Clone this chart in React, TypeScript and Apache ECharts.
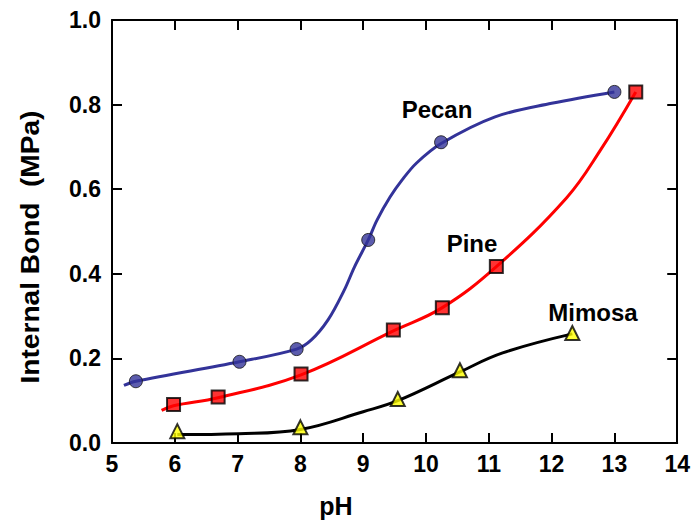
import React, { useEffect, useRef } from "react";
import * as echarts from "echarts";

// Measured points (pH, internal bond MPa)
const pecanPoints: number[][] = [
  [5.38, 0.146], [7.03, 0.192], [7.94, 0.222], [9.08, 0.48], [10.24, 0.711], [13.0, 0.83],
];
const pinePoints: number[][] = [
  [5.98, 0.091], [6.69, 0.109], [8.01, 0.163], [9.48, 0.267], [10.26, 0.32], [11.12, 0.417], [13.34, 0.83],
];
const mimosaPoints: number[][] = [
  [6.04, 0.028], [8.0, 0.037], [9.55, 0.104], [10.54, 0.172], [12.33, 0.26],
];

// Fitted curves
const pecanCurve: number[][] = [
  [5.19, 0.136], [5.38, 0.146], [7.03, 0.192], [7.94, 0.222], [8.17, 0.243], [8.44, 0.291],
  [8.7, 0.362], [8.86, 0.416], [9.08, 0.48], [9.22, 0.527], [9.43, 0.582], [9.62, 0.622],
  [9.85, 0.662], [10.24, 0.708], [11.1, 0.771], [12.0, 0.803], [13.0, 0.83],
];
const pineCurve: number[][] = [
  [5.79, 0.077], [5.98, 0.088], [6.69, 0.107], [8.01, 0.161], [9.48, 0.265], [10.26, 0.32],
  [11.12, 0.417], [12.24, 0.58], [12.78, 0.693], [13.34, 0.83],
];
const mimosaCurve: number[][] = [
  [6.04, 0.02], [7.02, 0.022], [8.0, 0.032], [9.0, 0.074], [9.55, 0.1], [10.54, 0.168],
  [11.22, 0.213], [12.33, 0.258],
];

const xTicks = { min: 5, max: 14, interval: 1 };
const yTicks = { min: 0, max: 1, interval: 0.2 };

const FONT = "Liberation Sans, Arial, Helvetica, sans-serif";

export default function App() {
  const ref = useRef<HTMLDivElement>(null);
  useEffect(() => {
    document.body.style.margin = "0";
    const chart = echarts.init(ref.current!, null, { renderer: "svg" });
    const axisLine = { show: true, onZero: false, lineStyle: { color: "#000", width: 2 } };
    const tick = { show: true, inside: true, length: 10, lineStyle: { color: "#000", width: 2 } };
    const lbl = { color: "#000", fontWeight: "bold" as const, fontSize: 23, fontFamily: FONT };
    chart.setOption({
      animation: false,
      backgroundColor: "#fff",
      grid: { left: 112, right: 10, top: 20, bottom: 78 },
      xAxis: [
        {
          type: "value", ...xTicks, position: "bottom",
          axisLine, axisTick: tick, splitLine: { show: false },
          axisLabel: { ...lbl, margin: 9 },
        },
        {
          type: "value", ...xTicks, position: "top",
          axisLine, axisTick: tick, splitLine: { show: false },
          axisLabel: { show: false },
        },
      ],
      yAxis: [
        {
          type: "value", ...yTicks, position: "left",
          axisLine, axisTick: tick, splitLine: { show: false },
          axisLabel: { ...lbl, margin: 11, formatter: (v: number) => v.toFixed(1) },
        },
        {
          type: "value", ...yTicks, position: "right",
          axisLine, axisTick: tick, splitLine: { show: false },
          axisLabel: { show: false },
        },
      ],
      series: [
        { type: "line", data: pecanCurve, smooth: 0.35, showSymbol: false, lineStyle: { color: "#333399", width: 3 }, z: 2 },
        { type: "line", data: pineCurve, smooth: 0.4, showSymbol: false, lineStyle: { color: "#ff0000", width: 3 }, z: 2 },
        { type: "line", data: mimosaCurve, smooth: 0.4, showSymbol: false, lineStyle: { color: "#000000", width: 3 }, z: 2 },
        { type: "scatter", data: pecanPoints, symbol: "circle", symbolSize: 13, itemStyle: { color: "#333399", borderColor: "#111", borderWidth: 1 }, z: 3 },
        { type: "scatter", data: pinePoints, symbol: "rect", symbolSize: 13, itemStyle: { color: "#ff0000", borderColor: "#000", borderWidth: 2 }, z: 3 },
        { type: "scatter", data: mimosaPoints, symbol: "triangle", symbolSize: 14, itemStyle: { color: "#ffff00", borderColor: "#000", borderWidth: 2 }, z: 3 },
      ],
      graphic: [
        { type: "text", x: 437, y: 109, style: { text: "Pecan", font: `bold 24px ${FONT}`, fill: "#000", align: "center", verticalAlign: "middle" } },
        { type: "text", x: 472, y: 243, style: { text: "Pine", font: `bold 24px ${FONT}`, fill: "#000", align: "center", verticalAlign: "middle" } },
        { type: "text", x: 593, y: 312, style: { text: "Mimosa", font: `bold 24px ${FONT}`, fill: "#000", align: "center", verticalAlign: "middle" } },
        { type: "text", x: 336, y: 506, style: { text: "pH", font: `bold 25px ${FONT}`, fill: "#000", align: "center", verticalAlign: "middle" } },
        { type: "text", x: 30, y: 247, rotation: Math.PI / 2, scaleX: 1.08, style: { text: "Internal Bond  (MPa)", font: `bold 26px ${FONT}`, fill: "#000", align: "center", verticalAlign: "middle" } },
      ],
    });
    return () => chart.dispose();
  }, []);
  return <div ref={ref} style={{ width: 693, height: 521 }} />;
}
